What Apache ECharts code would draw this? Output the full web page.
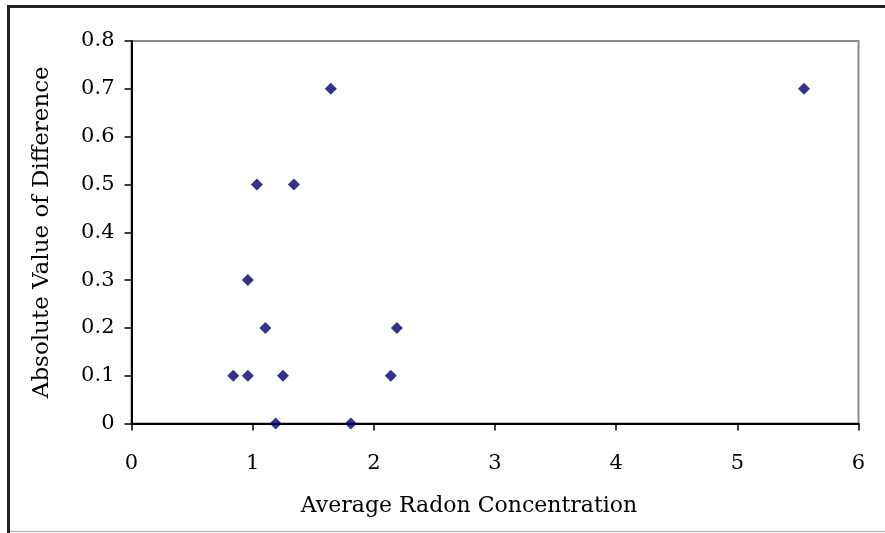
<!DOCTYPE html>
<html><head><meta charset="utf-8">
<script src="https://cdn.jsdelivr.net/npm/echarts@6/dist/echarts.min.js"></script>
<style>html,body{margin:0;padding:0;background:#fff}#c{width:885px;height:533px}</style>
</head><body><div id="c"></div>
<script>
var xValues = [0.84, 0.96, 0.96, 1.035, 1.105, 1.19, 1.25, 1.34, 1.645, 1.81, 2.14, 2.19, 5.55];
var yValues = [0.1, 0.1, 0.3, 0.5, 0.2, 0, 0.1, 0.5, 0.7, 0, 0.1, 0.2, 0.7];
var xTitle = 'Average Radon Concentration';
var yTitle = 'Absolute Value of Difference';

var pts = xValues.map(function(x, i){ return [x, yValues[i]]; });
var font = 'DejaVu Serif';
var chart = echarts.init(document.getElementById('c'), null, {renderer:'canvas'});
chart.setOption({
  animation: false,
  backgroundColor: '#fff',
  grid: {left: 131.5, right: 26.5, top: 41, bottom: 109.5, show: true, borderColor: '#8a8a8a', borderWidth: 2, backgroundColor: '#fff'},
  graphic: [
    {type:'line', shape:{x1:8.5, y1:6.5, x2:885, y2:6.5}, style:{stroke:'#222', lineWidth:3}, z: 100},
    {type:'line', shape:{x1:8.5, y1:5, x2:8.5, y2:533}, style:{stroke:'#222', lineWidth:3}, z: 100},
    {type:'line', shape:{x1:10, y1:531.5, x2:885, y2:531.5}, style:{stroke:'#bbb', lineWidth:1.5}, z: 100}
  ],
  xAxis: {
    type: 'value', min: 0, max: 6, interval: 1,
    name: xTitle, nameLocation: 'middle', nameGap: 72,
    nameTextStyle: {fontFamily: font, fontSize: 22, color: '#000', padding: [0, 52, 0, 0]},
    axisLine: {show: true, lineStyle: {color: '#000', width: 2}},
    axisTick: {show: true, length: 7, lineStyle: {color: '#000', width: 1.5}},
    axisLabel: {fontFamily: font, fontSize: 21, color: '#000', margin: 30},
    splitLine: {show: false}
  },
  yAxis: {
    type: 'value', min: 0, max: 0.8, interval: 0.1,
    name: yTitle, nameLocation: 'middle', nameGap: 78,
    nameTextStyle: {fontFamily: font, fontSize: 23, color: '#000'},
    axisLine: {show: true, lineStyle: {color: '#000', width: 2}},
    axisTick: {show: true, length: 7, lineStyle: {color: '#000', width: 1.5}},
    axisLabel: {fontFamily: font, fontSize: 21, color: '#000', margin: 17},
    splitLine: {show: false}
  },
  series: [{
    type: 'scatter', data: pts, symbol: 'diamond', symbolSize: [12, 12],
    itemStyle: {color: '#000070'}, z: 10
  }]
});
</script></body></html>
